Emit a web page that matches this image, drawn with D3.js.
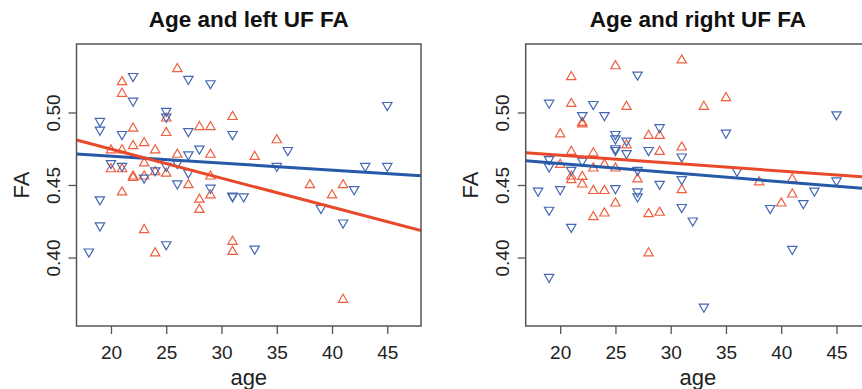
<!DOCTYPE html>
<html>
<head>
<meta charset="utf-8">
<script src="https://cdn.jsdelivr.net/npm/d3@7/dist/d3.min.js"></script>
<style>
  body { margin: 0; background: #fff; }
  svg { display: block; font-family: "Liberation Sans", Arial, sans-serif; }
</style>
</head>
<body>
<script>
// axis ticks
const ageTicks = [20, 25, 30, 35, 40, 45];
const faTicks = [0.40, 0.45, 0.50];
const ageDomain = [16.88, 48.05];
const faDomain = [0.3528, 0.5472];

const panelTitles = ["Age and left UF FA", "Age and right UF FA"];

// left UF FA: [age, FA]
const leftRed = [
  [26,0.530],[21,0.521],[21,0.513],[25,0.496],[22,0.489],[25,0.486],[28,0.490],[29,0.490],
  [31,0.497],[23,0.479],[22,0.477],[24,0.474],[20,0.474],[21,0.474],[26,0.471],[29,0.471],
  [35,0.481],[33,0.4695],[23,0.465],[20,0.461],[21,0.461],[24,0.459],[25,0.458],[22,0.456],
  [22,0.455],[23,0.456],[29,0.456],[27,0.450],[29,0.443],[21,0.445],[28,0.440],[28,0.433],
  [23,0.419],[24,0.403],[31,0.411],[31,0.404],[38,0.450],[41,0.450],[40,0.443],[41,0.371]
];
const leftBlue = [
  [22,0.525],[27,0.523],[29,0.520],[22,0.508],[25,0.501],[25,0.497],[19,0.494],[19,0.488],
  [21,0.485],[27,0.487],[31,0.485],[28,0.475],[36,0.474],[27,0.471],[26,0.465],[20,0.465],
  [21,0.463],[25,0.463],[24,0.460],[27,0.4585],[23,0.455],[26,0.451],[29,0.448],[35,0.463],
  [43,0.463],[45,0.463],[45,0.505],[31,0.442],[31,0.4425],[32,0.442],[19,0.440],[19,0.422],
  [18,0.404],[25,0.409],[33,0.406],[39,0.434],[41,0.424],[42,0.447]
];

// right UF FA: [age, FA]
const rightRed = [
  [25,0.532],[21,0.5245],[31,0.536],[21,0.506],[26,0.504],[33,0.504],[35,0.510],[22,0.493],
  [22,0.492],[20,0.485],[28,0.484],[29,0.484],[26,0.4775],[31,0.476],[21,0.473],[23,0.472],
  [29,0.473],[20,0.464],[24,0.464],[23,0.4615],[25,0.4615],[21,0.456],[21,0.4535],[22,0.4557],
  [22,0.4505],[27,0.454],[31,0.4466],[23,0.446],[24,0.446],[25,0.4374],[23,0.428],[24,0.4305],
  [28,0.430],[29,0.431],[28,0.403],[38,0.452],[41,0.454],[41,0.4436],[40,0.4374]
];
const rightBlue = [
  [27,0.526],[19,0.5066],[23,0.5057],[22,0.498],[24,0.498],[45,0.4986],[29,0.4897],[35,0.486],
  [25,0.485],[25,0.482],[25,0.4752],[25,0.474],[26,0.4805],[26,0.4718],[28,0.474],[31,0.4695],
  [19,0.4677],[19,0.4626],[22,0.4667],[21,0.4603],[27,0.4603],[36,0.4596],[31,0.4539],[29,0.4507],
  [45,0.453],[18,0.446],[20,0.447],[25,0.4477],[27,0.4454],[27,0.442],[43,0.446],[19,0.4328],
  [31,0.4347],[32,0.4254],[21,0.421],[39,0.434],[42,0.4374],[41,0.4058],[19,0.3865],[33,0.366]
];

// regression lines: [intercept, slope]
const leftRedFit = [0.5148, -0.002002];
const leftBlueFit = [0.4794, -0.000478];
const rightRedFit = [0.4813, -0.000542];
const rightBlueFit = [0.4772, -0.000624];

const width = 862, height = 389;
const redPt = "#ee6040", bluePt = "#4468b4";
const redLine = "#e8492a", blueLine = "#2659a8";
const axisCol = "#555";

const svg = d3.select("body").append("svg")
  .attr("width", width)
  .attr("height", height);

function drawPanel(i, left, title, red, blue, redFit, blueFit) {
  const top = 44, bottom = 326;
  const right = left + 344.5;

  const x = d3.scaleLinear().domain(ageDomain).range([left, right]);
  const y = d3.scaleLinear().domain(faDomain).range([bottom, top]);

  const g = svg.append("g");

  g.append("clipPath").attr("id", "clip" + i)
    .append("rect")
    .attr("x", left).attr("y", top)
    .attr("width", right - left).attr("height", bottom - top);

  // axes
  g.append("g")
    .attr("transform", `translate(0,${bottom})`)
    .call(d3.axisBottom(x).tickValues(ageTicks).tickSize(8).tickSizeOuter(0))
    .call(a => a.select(".domain").remove())
    .call(a => a.selectAll("line").attr("stroke", axisCol).attr("stroke-width", 1.3))
    .call(a => a.selectAll("text")
      .attr("fill", "#222")
      .style("font-size", "19px")
      .attr("dy", null)
      .attr("y", 33));

  const ya = g.append("g")
    .attr("transform", `translate(${left},0)`)
    .call(d3.axisLeft(y).tickValues(faTicks).tickSize(8).tickFormat(d3.format(".2f")).tickSizeOuter(0));
  ya.select(".domain").remove();
  ya.selectAll("line").attr("stroke", axisCol).attr("stroke-width", 1.3);
  ya.selectAll("text")
    .attr("fill", "#222")
    .style("font-size", "19px")
    .attr("x", null).attr("dy", null)
    .attr("text-anchor", "middle")
    .attr("transform", "translate(-16.5,0) rotate(-90)");

  // points
  const tri = d3.symbol().type(d3.symbolTriangle).size(38);
  const pts = g.append("g").attr("clip-path", `url(#clip${i})`);

  pts.selectAll(".red").data(red).join("path")
    .attr("d", tri)
    .attr("transform", d => `translate(${x(d[0])},${y(d[1])})`)
    .attr("fill", "none")
    .attr("stroke", redPt)
    .attr("stroke-width", 1.2);

  pts.selectAll(".blue").data(blue).join("path")
    .attr("d", tri)
    .attr("transform", d => `translate(${x(d[0])},${y(d[1])}) rotate(180)`)
    .attr("fill", "none")
    .attr("stroke", bluePt)
    .attr("stroke-width", 1.2);

  // fit lines
  const fitLine = f => d3.line()(ageDomain.map(a => [x(a), y(f[0] + f[1] * a)]));
  pts.append("path").attr("d", fitLine(blueFit))
    .attr("stroke", blueLine).attr("stroke-width", 3).attr("fill", "none");
  pts.append("path").attr("d", fitLine(redFit))
    .attr("stroke", redLine).attr("stroke-width", 3).attr("fill", "none");

  // box
  g.append("rect")
    .attr("x", left).attr("y", top)
    .attr("width", right - left).attr("height", bottom - top)
    .attr("fill", "none")
    .attr("stroke", axisCol)
    .attr("stroke-width", 1.5);

  // titles
  g.append("text")
    .attr("x", (left + right) / 2).attr("y", 27)
    .attr("text-anchor", "middle")
    .attr("font-weight", "bold")
    .style("font-size", "22.5px")
    .attr("fill", "#111")
    .text(title);

  g.append("text")
    .attr("x", (left + right) / 2).attr("y", 385)
    .attr("text-anchor", "middle")
    .style("font-size", "22px")
    .attr("fill", "#222")
    .text("age");

  g.append("text")
    .attr("transform", `translate(${left - 48},${(top + bottom) / 2}) rotate(-90)`)
    .attr("text-anchor", "middle")
    .style("font-size", "22px")
    .attr("fill", "#222")
    .text("FA");
}

drawPanel(0, 76.5, panelTitles[0], leftRed, leftBlue, leftRedFit, leftBlueFit);
drawPanel(1, 525.7, panelTitles[1], rightRed, rightBlue, rightRedFit, rightBlueFit);
</script>
</body>
</html>
